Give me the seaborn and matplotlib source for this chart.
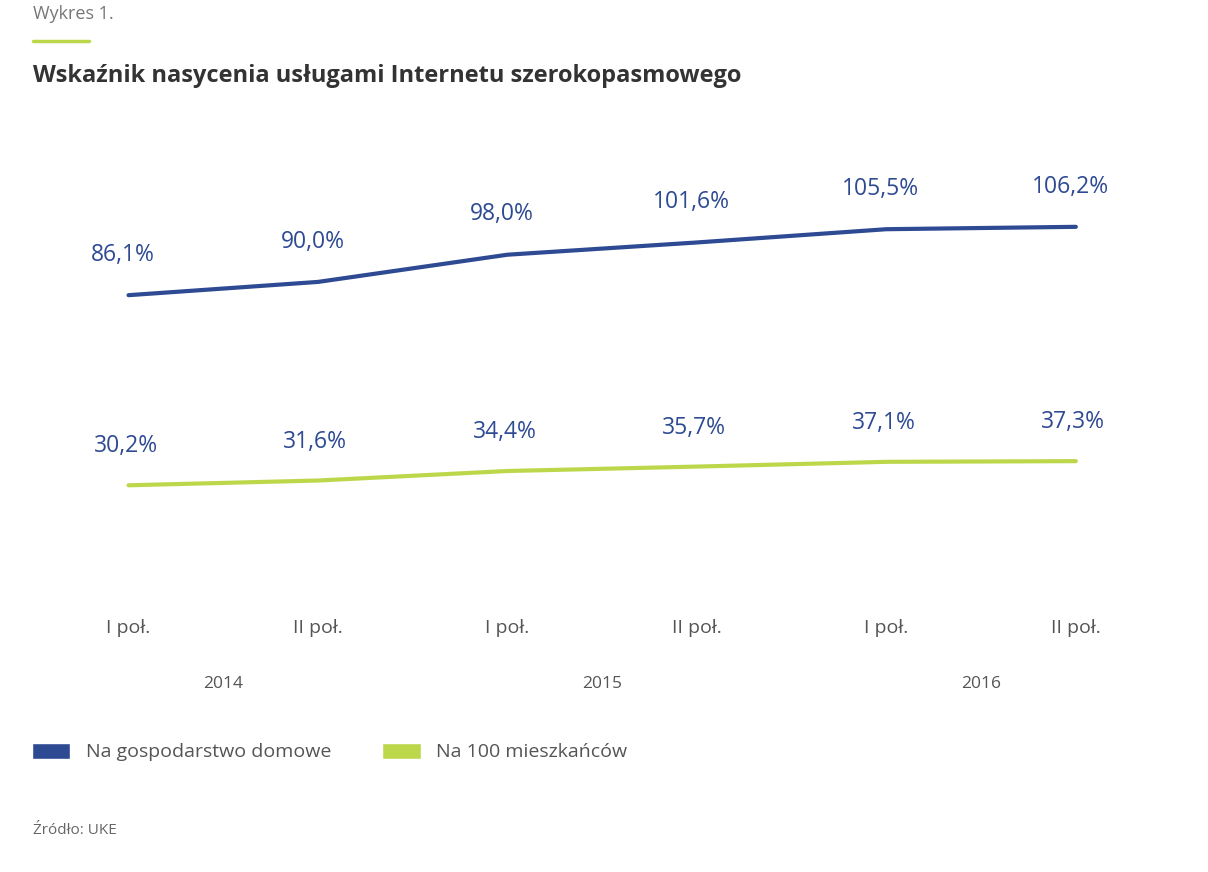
import pandas as pd
import numpy as np
import matplotlib.pyplot as plt
import seaborn as sns
from matplotlib.patches import Patch
from matplotlib.lines import Line2D
import matplotlib.transforms as mtransforms

# Data
# ==============================================================================
okresy = ["I poł.", "II poł.", "I poł.", "II poł.", "I poł.", "II poł."]
lata = ["2014", "2015", "2016"]
gospodarstwa = [86.1, 90.0, 98.0, 101.6, 105.5, 106.2]
mieszkancy = [30.2, 31.6, 34.4, 35.7, 37.1, 37.3]
serie = ["Na gospodarstwo domowe", "Na 100 mieszkańców"]

BLUE = "#2d4a93"
GREEN = "#bdd74b"
GREY = "#555555"

df = pd.DataFrame({
    "x": list(range(len(okresy))) * 2,
    "val": gospodarstwa + mieszkancy,
    "seria": [serie[0]] * len(okresy) + [serie[1]] * len(okresy),
})

sns.set_theme(style="white")
plt.rcParams['font.family'] = ['Open Sans', 'DejaVu Sans']

fig = plt.figure(figsize=(12.08, 8.72), dpi=100)
ax = fig.add_axes([0.028, 0.3257, 0.941, 0.507])

sns.lineplot(
    data      = df,
    x         = "x",
    y         = "val",
    hue       = "seria",
    palette   = [BLUE, GREEN],
    linewidth = 3,
    legend    = False,
    ax        = ax
)

# value labels
for i, v in enumerate(gospodarstwa):
    ax.annotate(f"{v:.1f}%".replace(".", ","), (i, v), xytext=(-4, 29),
                textcoords="offset points", ha="center", va="center",
                fontsize=16.5, color=BLUE, annotation_clip=False)
for i, v in enumerate(mieszkancy):
    ax.annotate(f"{v:.1f}%".replace(".", ","), (i, v), xytext=(-2, 28),
                textcoords="offset points", ha="center", va="center",
                fontsize=16.5, color=BLUE, annotation_clip=False)

ax.set_xlim(-0.5, 5.5)
ax.set_ylim(0, 130)
ax.set_xticks(range(len(okresy)))
ax.set_xticklabels(okresy, fontsize=14, color=GREY)
ax.tick_params(axis="x", length=0, pad=22)
ax.set_yticks([])
ax.set_xlabel("")
ax.set_ylabel("")
sns.despine(ax=ax, left=True, bottom=True)

# years under pairs of halves
trans = mtransforms.blended_transform_factory(ax.transData, fig.transFigure)
for k, rok in enumerate(lata):
    ax.text(2 * k + 0.5, 1 - 684 / 872, rok, transform=trans, ha="center",
            va="center", fontsize=12.5, color=GREY)

# header
fig.text(33 / 1208, 1 - 14 / 872, "Wykres 1.", fontsize=13, color="#777777",
         va="center", ha="left")
fig.add_artist(Line2D([33 / 1208, 89 / 1208], [1 - 41 / 872, 1 - 41 / 872],
                      color=GREEN, linewidth=2.5, transform=fig.transFigure))
fig.text(33 / 1208, 1 - 76 / 872, "Wskaźnik nasycenia usługami Internetu szerokopasmowego",
         fontsize=17, fontweight="bold", color="#333333", va="center", ha="left")

# legend
handles = [Patch(facecolor=BLUE, label=serie[0]), Patch(facecolor=GREEN, label=serie[1])]
fig.legend(handles=handles, loc="center left", bbox_to_anchor=(14 / 1208, 1 - 752 / 872),
           ncol=2, frameon=False, fontsize=14, labelcolor=GREY,
           handlelength=2.0, handleheight=0.9, columnspacing=2.6, handletextpad=0.8)

fig.text(33 / 1208, 1 - 830 / 872, "Źródło: UKE", fontsize=11, color="#666666",
         va="center", ha="left")

plt.savefig("out.png", dpi=100)
